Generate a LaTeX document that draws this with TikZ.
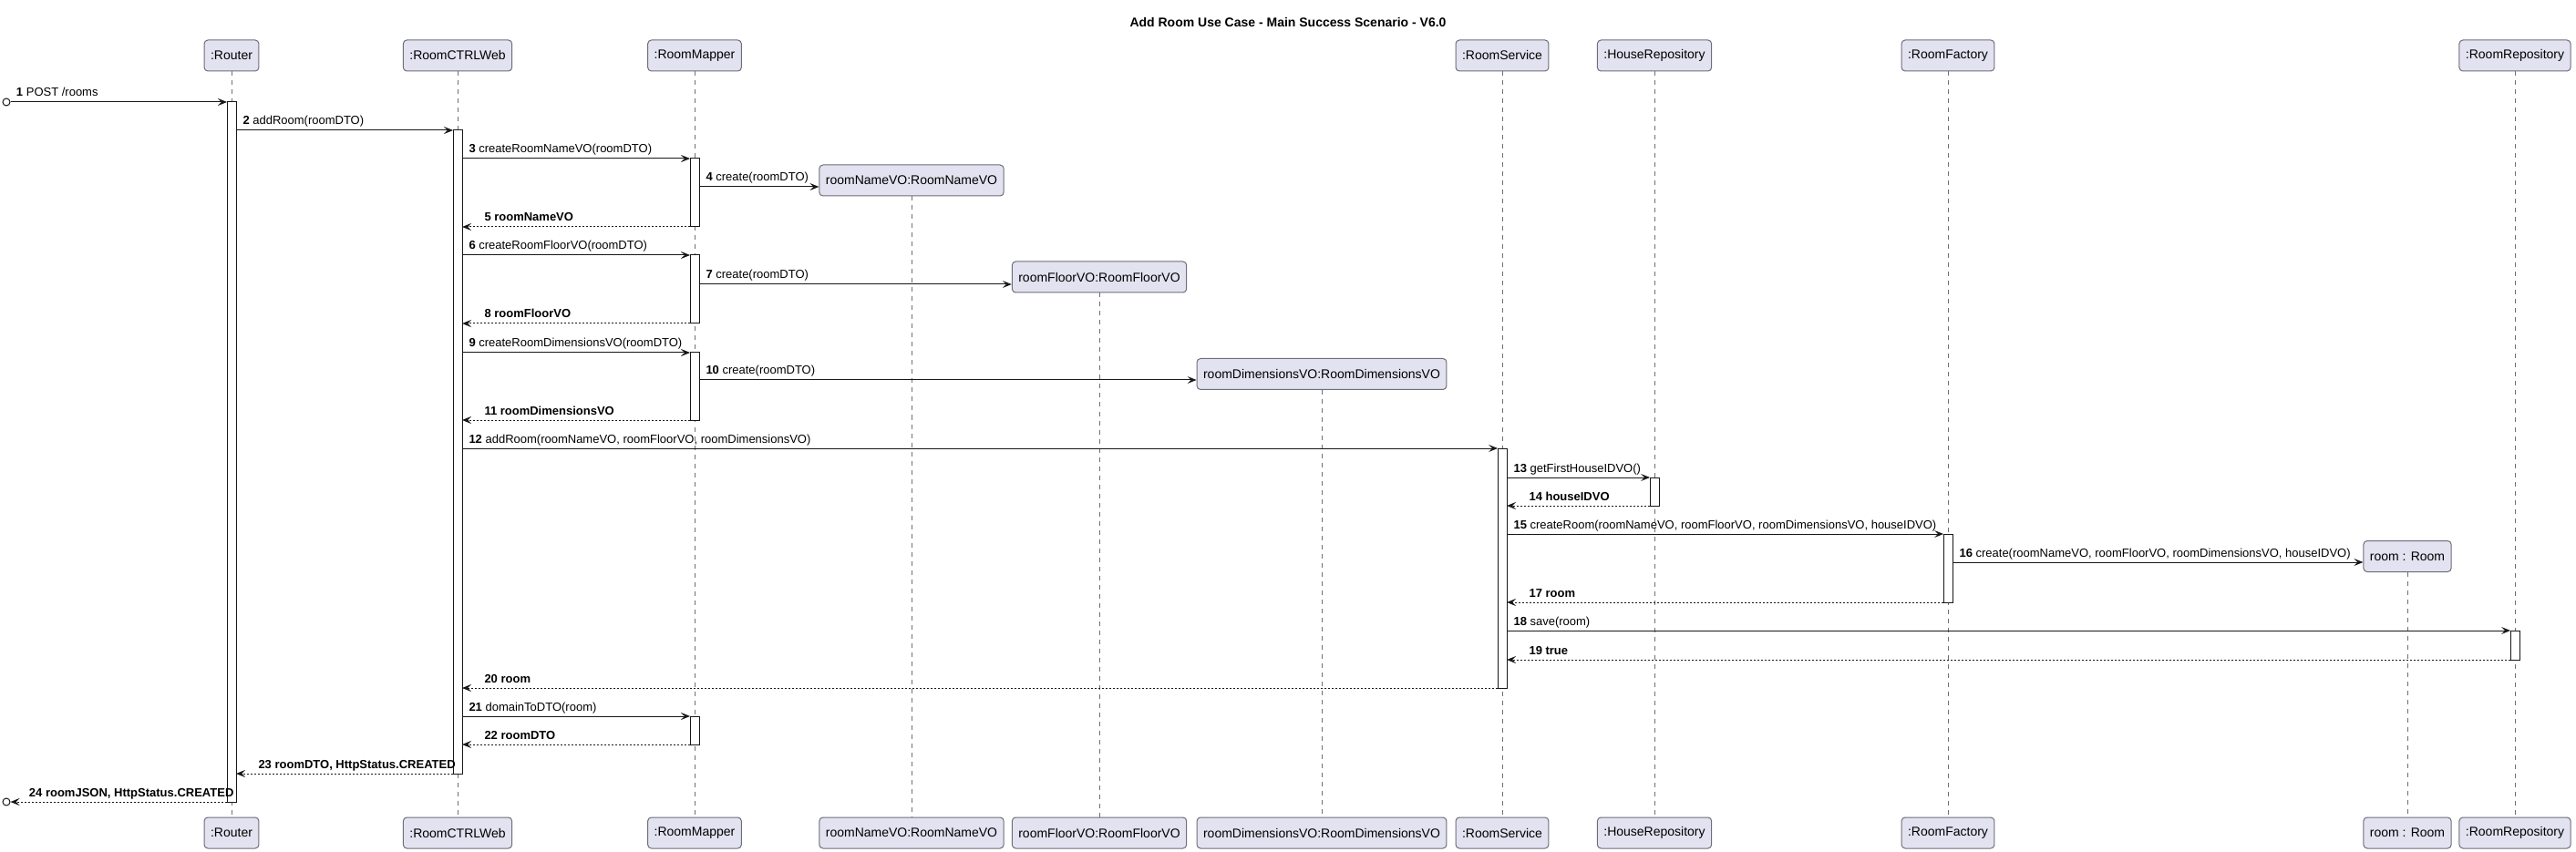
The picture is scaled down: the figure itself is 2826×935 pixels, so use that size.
\documentclass[tikz,border=0pt]{standalone}
\usepackage{fontspec}
\setmainfont{Liberation Sans}
\usetikzlibrary{arrows.meta}
\definecolor{partfill}{HTML}{E2E2F0}
\definecolor{umlline}{HTML}{181818}
\definecolor{boxline}{HTML}{6E6E7A}

\begin{document}
\begin{tikzpicture}[x=0.5pt, y=-0.5pt,
    part/.style={draw=boxline, fill=partfill, rounded corners=2pt, line width=0.5pt,
        minimum height=17pt, inner xsep=3.5pt, inner ysep=0pt,
        font=\fontsize{7pt}{8pt}\selectfont},
    life/.style={draw=boxline, line width=0.5pt, dash pattern=on 2.5pt off 2.5pt},
    actbar/.style={draw=umlline, fill=white, line width=0.5pt, minimum width=5pt,
        inner sep=0pt, outer sep=0pt},
    call/.style={draw=umlline, line width=0.5pt, -{Stealth[length=5pt, width=4pt, inset=2pt]}},
    reply/.style={call, dash pattern=on 1pt off 1pt},
    fwdlbl/.style={at start, anchor=base west, xshift=3.5pt, yshift=3pt, inner sep=0pt,
        font=\fontsize{6.5pt}{8pt}\selectfont},
    retlbl/.style={fwdlbl, at end, xshift=8.5pt, font=\fontsize{6.5pt}{8pt}\selectfont\bfseries},
    endpt/.style={draw=umlline, fill=white, circle, line width=0.5pt, inner sep=0pt, minimum size=4pt}
    ]
    \useasboundingbox (0,0) rectangle (2826,935);
    % Title
    \node[font=\fontsize{7pt}{8pt}\selectfont\bfseries] (title) at (1413,25)
        {Add Room Use Case - Main Success Scenario - V6.0};
    % Participants (top)
    \node[part] (router)    at (254,61)  {:Router};
    \node[part] (ctrl)      at (502,61)  {:RoomCTRLWeb};
    \node[part] (mapper)    at (762,61)  {:RoomMapper};
    \node[part] (nameVO)    at (1000,198) {roomNameVO:RoomNameVO};
    \node[part] (floorVO)   at (1206,304) {roomFloorVO:RoomFloorVO};
    \node[part] (dimVO)     at (1450,410.5) {roomDimensionsVO:RoomDimensionsVO};
    \node[part] (service)   at (1648,61) {:RoomService};
    \node[part] (houseRepo) at (1815,61) {:HouseRepository};
    \node[part] (factory)   at (2137,61) {:RoomFactory};
    \node[part] (room)      at (2641,610.5) {room : Room};
    \node[part] (roomRepo)  at (2759,61) {:RoomRepository};
    % Participants (bottom)
    \node[part] (router-b)    at (254,914)  {:Router};
    \node[part] (ctrl-b)      at (502,914)  {:RoomCTRLWeb};
    \node[part] (mapper-b)    at (762,914)  {:RoomMapper};
    \node[part] (nameVO-b)    at (1000,914) {roomNameVO:RoomNameVO};
    \node[part] (floorVO-b)   at (1206,914) {roomFloorVO:RoomFloorVO};
    \node[part] (dimVO-b)     at (1450,914) {roomDimensionsVO:RoomDimensionsVO};
    \node[part] (service-b)   at (1648,914) {:RoomService};
    \node[part] (houseRepo-b) at (1815,914) {:HouseRepository};
    \node[part] (factory-b)   at (2137,914) {:RoomFactory};
    \node[part] (room-b)      at (2641,914) {room : Room};
    \node[part] (roomRepo-b)  at (2759,914) {:RoomRepository};
    % Lifelines
    \foreach \p in {router,ctrl,mapper,nameVO,floorVO,dimVO,service,houseRepo,factory,room,roomRepo}
        \draw[life] (\p.south) -- (\p-b.north);
    % Activations
    \node[actbar, minimum height=384pt]  (aRouter) at (254,496) {};
    \node[actbar, minimum height=353pt]  (aCtrl)   at (502,496) {};
    \node[actbar, minimum height=37.5pt] (aMap1)   at (762,211.5) {};
    \node[actbar, minimum height=37.5pt] (aMap2)   at (762,317.5) {};
    \node[actbar, minimum height=37pt]   (aMap3)   at (762,424) {};
    \node[actbar, minimum height=15.5pt] (aMap4)   at (762,801.5) {};
    \node[actbar, minimum height=131.5pt] (aServ)  at (1648,623.5) {};
    \node[actbar, minimum height=15.5pt] (aHouse)  at (1815,539.5) {};
    \node[actbar, minimum height=37.5pt] (aFact)   at (2137,623.5) {};
    \node[actbar, minimum height=16pt]   (aRepo)   at (2759,708) {};
    % Found / lost message ends
    \node[endpt] (src) at (7,112) {};
    \node[endpt] (snk) at (7,880) {};
    % Messages
    \draw[call] (src.east) -- node[fwdlbl, xshift=-0.5pt] {\textbf{1} POST /rooms} (aRouter.west |- src);
    \draw[call] (aRouter.east |- 0,143) -- node[fwdlbl] {\textbf{2} addRoom(roomDTO)} (aCtrl.west |- 0,143);
    \draw[call] (aCtrl.east |- 0,174) -- node[fwdlbl] {\textbf{3} createRoomNameVO(roomDTO)} (aMap1.west |- 0,174);
    \draw[call] (aMap1.east |- 0,205) -- node[fwdlbl] {\textbf{4} create(roomDTO)} (nameVO.west |- 0,205);
    \draw[reply] (aMap1.west |- 0,249) -- node[retlbl] {5 roomNameVO} (aCtrl.east |- 0,249);
    \draw[call] (aCtrl.east |- 0,280) -- node[fwdlbl] {\textbf{6} createRoomFloorVO(roomDTO)} (aMap2.west |- 0,280);
    \draw[call] (aMap2.east |- 0,312) -- node[fwdlbl] {\textbf{7} create(roomDTO)} (floorVO.west |- 0,312);
    \draw[reply] (aMap2.west |- 0,355) -- node[retlbl] {8 roomFloorVO} (aCtrl.east |- 0,355);
    \draw[call] (aCtrl.east |- 0,387) -- node[fwdlbl] {\textbf{9} createRoomDimensionsVO(roomDTO)} (aMap3.west |- 0,387);
    \draw[call] (aMap3.east |- 0,417) -- node[fwdlbl] {\textbf{10} create(roomDTO)} (dimVO.west |- 0,417);
    \draw[reply] (aMap3.west |- 0,461) -- node[retlbl] {11 roomDimensionsVO} (aCtrl.east |- 0,461);
    \draw[call] (aCtrl.east |- 0,492) -- node[fwdlbl] {\textbf{12} addRoom(roomNameVO, roomFloorVO, roomDimensionsVO)} (aServ.west |- 0,492);
    \draw[call] (aServ.east |- 0,524) -- node[fwdlbl] {\textbf{13} getFirstHouseIDVO()} (aHouse.west |- 0,524);
    \draw[reply] (aHouse.west |- 0,555) -- node[retlbl] {14 houseIDVO} (aServ.east |- 0,555);
    \draw[call] (aServ.east |- 0,586) -- node[fwdlbl] {\textbf{15} createRoom(roomNameVO, roomFloorVO, roomDimensionsVO, houseIDVO)} (aFact.west |- 0,586);
    \draw[call] (aFact.east |- 0,617) -- node[fwdlbl] {\textbf{16} create(roomNameVO, roomFloorVO, roomDimensionsVO, houseIDVO)} (room.west |- 0,617);
    \draw[reply] (aFact.west |- 0,661) -- node[retlbl] {17 room} (aServ.east |- 0,661);
    \draw[call] (aServ.east |- 0,692) -- node[fwdlbl] {\textbf{18} save(room)} (aRepo.west |- 0,692);
    \draw[reply] (aRepo.west |- 0,724) -- node[retlbl] {19 true} (aServ.east |- 0,724);
    \draw[reply] (aServ.west |- 0,755) -- node[retlbl] {20 room} (aCtrl.east |- 0,755);
    \draw[call] (aCtrl.east |- 0,786) -- node[fwdlbl] {\textbf{21} domainToDTO(room)} (aMap4.west |- 0,786);
    \draw[reply] (aMap4.west |- 0,817) -- node[retlbl] {22 roomDTO} (aCtrl.east |- 0,817);
    \draw[reply] (aCtrl.west |- 0,849) -- node[retlbl] {23 roomDTO, HttpStatus.CREATED} (aRouter.east |- 0,849);
    \draw[reply] (aRouter.west |- snk) -- node[retlbl, xshift=-2pt] {24 roomJSON, HttpStatus.CREATED} (snk.east);
\end{tikzpicture}
\end{document}
